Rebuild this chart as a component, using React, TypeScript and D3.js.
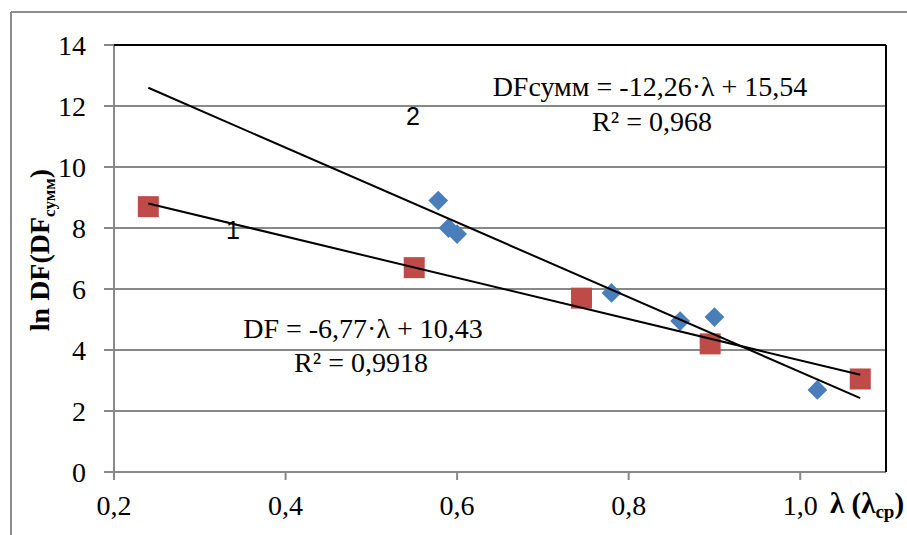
import React, { useEffect, useState } from 'react';
import * as d3 from 'd3';

// series 1 (red squares): DF
const lambda1 = [0.24, 0.55, 0.745, 0.895, 1.07];
const lnDF1 = [8.7, 6.7, 5.7, 4.2, 3.05];

// series 2 (blue diamonds): DFсумм
const lambda2 = [0.578, 0.59, 0.6, 0.78, 0.86, 0.9, 1.02];
const lnDF2 = [8.9, 8.0, 7.8, 5.87, 4.95, 5.08, 2.69];

// linear trendlines, drawn over the same lambda span
const trendSlope = [-6.77, -12.26];
const trendIntercept = [10.43, 15.54];
const trendRange = [0.24, 1.07];

const xTicks = [0.2, 0.4, 0.6, 0.8, 1.0];
const yTicks = [0, 2, 4, 6, 8, 10, 12, 14];

const W = 907;
const H = 535;
const margin = { left: 114, right: 21, top: 45, bottom: 63 };

const serif = '"Times New Roman", "Liberation Serif", serif';
const sans = '"Liberation Sans", Arial, sans-serif';

const App = () => {
    // re-render once the serif face is loaded, otherwise the first paint may use a fallback
    const [, setReady] = useState(0);
    useEffect(() => {
        const fonts = (document as any).fonts;
        if (fonts && fonts.load) {
            Promise.all([
                fonts.load('28px "Times New Roman"'),
                fonts.load('28px "Liberation Serif"'),
                fonts.load('bold 28px "Liberation Serif"'),
            ]).then(() => setReady(r => r + 1)).catch(() => {});
        }
    }, []);

    const x = d3.scaleLinear().domain([0.2, 1.1]).range([margin.left, W - margin.right]);
    const y = d3.scaleLinear().domain([0, 14]).range([H - margin.bottom, margin.top]);

    const fmt = (v: number) => d3.format('.1f')(v).replace('.', ',');

    const trendPath = (k: number) => {
        const pts: [number, number][] = trendRange.map(l => [x(l), y(trendSlope[k] * l + trendIntercept[k])]);
        return d3.line()(pts);
    };

    const x0 = x.range()[0], x1 = x.range()[1];
    const y0 = y.range()[0], y1 = y.range()[1];

    return (
        <svg width={W} height={H} style={{ position: 'absolute', left: 0, top: 0, background: '#fff' }}>
            {/* outer chart frame */}
            <line x1={11} x2={W} y1={12} y2={12} stroke="#8c8c8c" strokeWidth={2} />
            <line x1={11} x2={11} y1={12} y2={H} stroke="#8c8c8c" strokeWidth={2} />

            {/* gridlines + y ticks */}
            {yTicks.map(t => (
                <g key={t}>
                    <line x1={x0 - 10} x2={x1} y1={y(t)} y2={y(t)} stroke="#888" strokeWidth={2} />
                    <text x={86} y={y(t)} dy="0.35em" textAnchor="end" style={{ fontFamily: serif }} fontSize={28}>{t}</text>
                </g>
            ))}

            {/* x ticks */}
            {xTicks.map(t => (
                <g key={t}>
                    <line x1={x(t)} x2={x(t)} y1={y0} y2={y0 + 8} stroke="#888" strokeWidth={2} />
                    <text x={x(t)} y={515} textAnchor="middle" style={{ fontFamily: serif }} fontSize={28}>{fmt(t)}</text>
                </g>
            ))}

            {/* axes lines and black plot border */}
            <line x1={x0} x2={x0} y1={y1} y2={y0 + 8} stroke="#888" strokeWidth={2} />
            <line x1={x0} x2={x1} y1={y0} y2={y0} stroke="#888" strokeWidth={2} />
            <line x1={x0} x2={x1} y1={y1} y2={y1} stroke="#000" strokeWidth={2} />
            <line x1={x1} x2={x1} y1={y1} y2={y0} stroke="#000" strokeWidth={2} />

            {/* markers */}
            {lambda2.map((l, i) => (
                <rect key={'d' + i} x={-7} y={-7} width={14} height={14} fill="#4a7ebb"
                    transform={`translate(${x(l)},${y(lnDF2[i])}) rotate(45)`} />
            ))}
            {lambda1.map((l, i) => (
                <rect key={'s' + i} x={x(l) - 10.5} y={y(lnDF1[i]) - 10.5} width={21} height={21} fill="#be4b48" />
            ))}

            {/* trendlines */}
            {trendSlope.map((_, k) => (
                <path key={k} d={trendPath(k) || ''} stroke="#000" strokeWidth={2} fill="none" />
            ))}

            {/* equations */}
            <g style={{ fontFamily: serif }} fontSize={28} textAnchor="middle">
                <text x={650} y={96}>DFсумм = -12,26·λ + 15,54</text>
                <text x={652} y={131}>R² = 0,968</text>
                <text x={363} y={338}>DF = -6,77·λ + 10,43</text>
                <text x={361} y={372}>R² = 0,9918</text>
            </g>

            {/* curve labels */}
            <text x={413} y={125} textAnchor="middle" style={{ fontFamily: sans }} fontSize={25}>2</text>
            <text x={233} y={239} textAnchor="middle" style={{ fontFamily: sans }} fontSize={25}>1</text>

            {/* axis titles */}
            <text transform="translate(49,250) rotate(-90)" textAnchor="middle" style={{ fontFamily: serif }}
                fontSize={28} fontWeight="bold">
                ln DF(DF<tspan fontSize={17} dy={6}>сумм</tspan><tspan dy={-6}>)</tspan>
            </text>
            <text x={830} y={513} style={{ fontFamily: serif }} fontSize={29} fontWeight="bold">
                λ (λ<tspan fontSize={19} dy={5}>ср</tspan><tspan dy={-5}>)</tspan>
            </text>
        </svg>
    );
};

export default App;
